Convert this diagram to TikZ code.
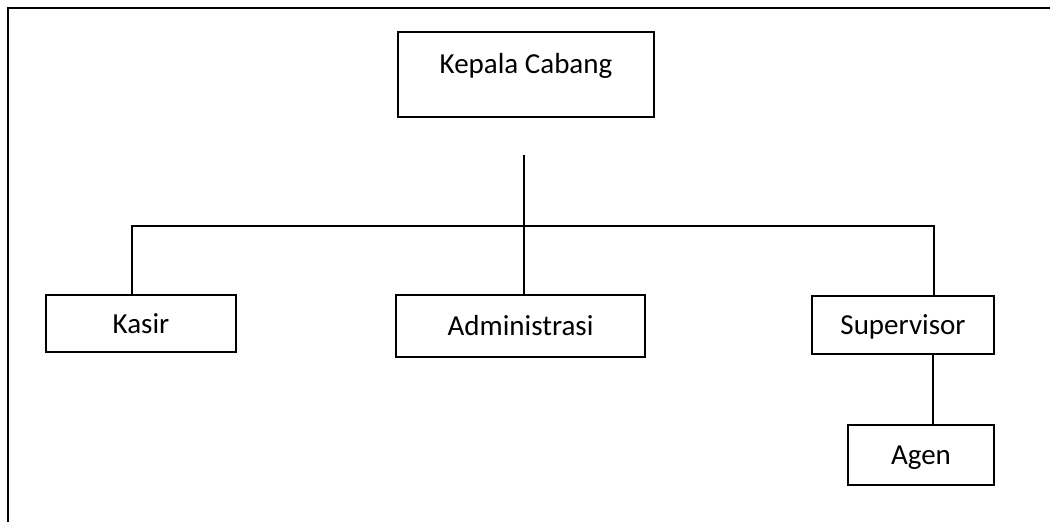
\documentclass[tikz,border=0pt]{standalone}
\usepackage{fontspec}
\setmainfont{Carlito}
\usetikzlibrary{positioning}

\begin{document}
\begin{tikzpicture}[
  x=1pt, y=-1pt,
  box/.style={draw, line width=1.3pt, inner sep=0pt, text height=19pt, text depth=0pt,
              font=\fontsize{29}{34}\selectfont},
  link/.style={line width=1.1pt}
]
\useasboundingbox (0,0) rectangle (1050,522);
% frame, cut by the page edge
\draw[line width=2pt] (8,530) -- (8,8) -- (1060,8);

\node[box, line width=2pt, minimum width=256pt, text height=41pt, text depth=44pt] (kepala) at (526,74.5) {Kepala Cabang};
\node[box, minimum width=190pt, minimum height=57pt] (kasir) at (141,323.5) {Kasir};
\node[box, minimum width=249pt, minimum height=62pt] (admin) at (520.5,326) {Administrasi};
\node[box, minimum width=182pt, minimum height=58pt] (super) at (903,325) {Supervisor};
\node[box, minimum width=146pt, minimum height=60pt] (agen) at (921,455) {Agen};

\coordinate (top) at (524,155);
\coordinate (busL) at (132,226);
\coordinate (busR) at (934,226);

\draw[link] (top) -- (top |- admin.north);
\draw[link] (busL |- kasir.north) -- (busL) -- (busR) -- (busR |- super.north);
\draw[link] ([xshift=30pt]super.south) -- ([xshift=30pt]super.south |- agen.north);
\end{tikzpicture}
\end{document}
